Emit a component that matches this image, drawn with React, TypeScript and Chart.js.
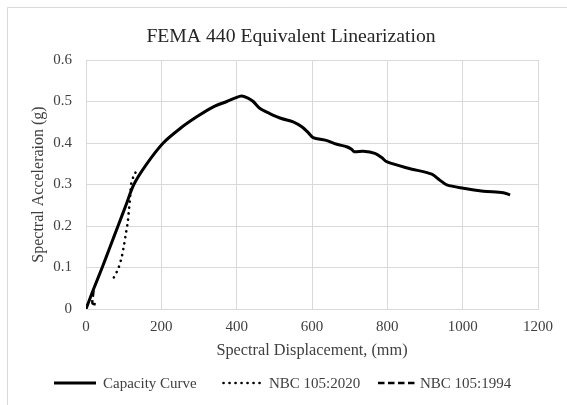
import React, { useEffect, useRef } from "react";
import { Chart, registerables } from "chart.js";

Chart.register(...registerables);

const TITLE = "FEMA 440 Equivalent Linearization";
const X_TITLE = "Spectral Displacement, (mm)";
const Y_TITLE = "Spectral Acceleraion (g)";
const SERIES_NAMES = ["Capacity Curve", "NBC 105:2020", "NBC 105:1994"];

const capacityX = [0, 10, 21, 43, 64, 85, 106, 127, 160, 205, 250, 294, 338, 374, 395, 413, 430, 444, 462, 488, 519, 550, 573, 590, 603, 635, 666, 692, 705, 712, 736, 767, 785, 798, 856, 918, 940, 958, 1002, 1055, 1108, 1126];
const capacityY = [0, 0.024, 0.05, 0.1, 0.15, 0.2, 0.25, 0.3, 0.348, 0.4, 0.435, 0.463, 0.487, 0.5, 0.508, 0.513, 0.508, 0.5, 0.483, 0.471, 0.459, 0.451, 0.439, 0.425, 0.413, 0.407, 0.397, 0.391, 0.385, 0.379, 0.38, 0.375, 0.365, 0.355, 0.339, 0.325, 0.31, 0.299, 0.291, 0.284, 0.28, 0.275];

const nbc2020X = [74, 86, 95, 101, 106, 111, 114, 117, 119, 121, 126, 130, 134];
const nbc2020Y = [0.076, 0.098, 0.126, 0.154, 0.182, 0.21, 0.239, 0.267, 0.295, 0.307, 0.319, 0.325, 0.337];

const nbc1994X = [20, 19, 17, 17, 20, 30];
const nbc1994Y = [0.045, 0.035, 0.022, 0.014, 0.012, 0.011];

const xTicks = [0, 200, 400, 600, 800, 1000, 1200];
const yTicks = [0, 0.1, 0.2, 0.3, 0.4, 0.5, 0.6];

const FONT = "'Liberation Serif', 'Times New Roman', serif";
const GRID = "#d9d9d9";
const TEXT = "#404040";

const toPts = (xs: number[], ys: number[]) => xs.map((x, i) => ({ x, y: ys[i] }));

const dashes: number[][] = [[], [0.1, 5.9], [6.5, 3.5]];

const decorPlugin = {
  id: "decor",
  beforeDraw(chart: any) {
    const ctx = chart.ctx;
    ctx.save();
    ctx.fillStyle = "#ffffff";
    ctx.fillRect(0, 0, chart.width, chart.height);
    ctx.strokeStyle = GRID;
    ctx.lineWidth = 1;
    ctx.beginPath();
    ctx.moveTo(7.5, chart.height);
    ctx.lineTo(7.5, 7.5);
    ctx.lineTo(chart.width, 7.5);
    ctx.stroke();
    ctx.restore();
  },
  afterDraw(chart: any) {
    const ctx = chart.ctx;
    ctx.save();
    ctx.fillStyle = "#262626";
    ctx.font = `19.7px ${FONT}`;
    ctx.textAlign = "center";
    ctx.textBaseline = "middle";
    ctx.fillText(TITLE, 291, 37);
    ctx.font = `15px ${FONT}`;
    ctx.textAlign = "left";
    const starts = [54, 222, 378];
    const sampleW = [42, 42, 40];
    const textGap = [7, 5, 2];
    const y = 383;
    SERIES_NAMES.forEach((name, i) => {
      const x = starts[i];
      ctx.strokeStyle = "#000";
      ctx.lineWidth = i === 0 ? 3 : 2.6;
      ctx.lineCap = i === 1 ? "round" : "butt";
      ctx.setLineDash(dashes[i]);
      ctx.beginPath();
      ctx.moveTo(x + (i === 1 ? 1.5 : 0), y);
      ctx.lineTo(x + sampleW[i], y);
      ctx.stroke();
      ctx.setLineDash([]);
      ctx.fillStyle = TEXT;
      ctx.fillText(name, x + sampleW[i] + textGap[i], y + 1);
    });
    ctx.restore();
  },
};

export default function App() {
  const ref = useRef<HTMLCanvasElement | null>(null);
  useEffect(() => {
    if (!ref.current) return;
    const chart = new Chart(ref.current, {
      type: "scatter",
      data: {
        datasets: [
          {
            label: SERIES_NAMES[0],
            data: toPts(capacityX, capacityY),
            showLine: true,
            borderColor: "#000",
            borderWidth: 3,
            pointRadius: 0,
            tension: 0.3,
            borderJoinStyle: "round",
          },
          {
            label: SERIES_NAMES[1],
            data: toPts(nbc2020X, nbc2020Y),
            showLine: true,
            borderColor: "#000",
            borderWidth: 2.6,
            borderDash: dashes[1],
            borderCapStyle: "round",
            pointRadius: 0,
            tension: 0.2,
          },
          {
            label: SERIES_NAMES[2],
            data: toPts(nbc1994X, nbc1994Y),
            showLine: true,
            borderColor: "#000",
            borderWidth: 2.5,
            borderDash: dashes[2],
            pointRadius: 0,
            tension: 0.2,
          },
        ] as any,
      },
      options: {
        animation: false,
        responsive: false,
        layout: { padding: { top: 60, right: 29, bottom: 0, left: 0 } },
        plugins: {
          legend: { display: false },
          title: { display: false },
          tooltip: { enabled: false },
        },
        scales: {
          x: {
            type: "linear",
            min: 0,
            max: 1200,
            afterBuildTicks: (s: any) => {
              s.ticks = xTicks.map((v) => ({ value: v }));
            },
            afterFit: (s: any) => {
              s.height = 96;
            },
            grid: { color: GRID, lineWidth: 1, drawTicks: false },
            border: { color: GRID },
            ticks: {
              padding: 9,
              color: TEXT,
              font: { family: FONT, size: 15 },
              maxRotation: 0,
              callback: (v: any) => String(v),
            },
            title: {
              display: true,
              text: X_TITLE,
              color: TEXT,
              font: { family: FONT, size: 16.3 },
              padding: { top: 0, bottom: 44 },
            },
          },
          y: {
            type: "linear",
            min: 0,
            max: 0.6,
            afterBuildTicks: (s: any) => {
              s.ticks = yTicks.map((v) => ({ value: v }));
            },
            afterFit: (s: any) => {
              s.width = 86;
            },
            grid: { color: GRID, lineWidth: 1, drawTicks: false },
            border: { color: GRID },
            ticks: {
              padding: 14,
              color: TEXT,
              font: { family: FONT, size: 15 },
              callback: (v: any) => String(Math.round(Number(v) * 10) / 10),
            },
            title: {
              display: true,
              text: Y_TITLE,
              color: TEXT,
              font: { family: FONT, size: 16 },
              padding: { top: 29, bottom: 0 },
            },
          },
        },
      } as any,
      plugins: [decorPlugin],
    });
    return () => chart.destroy();
  }, []);
  return (
    <div style={{ position: "absolute", left: 0, top: 0, width: 567, height: 405 }}>
      <canvas ref={ref} width={567} height={405} style={{ display: "block" }} />
    </div>
  );
}
